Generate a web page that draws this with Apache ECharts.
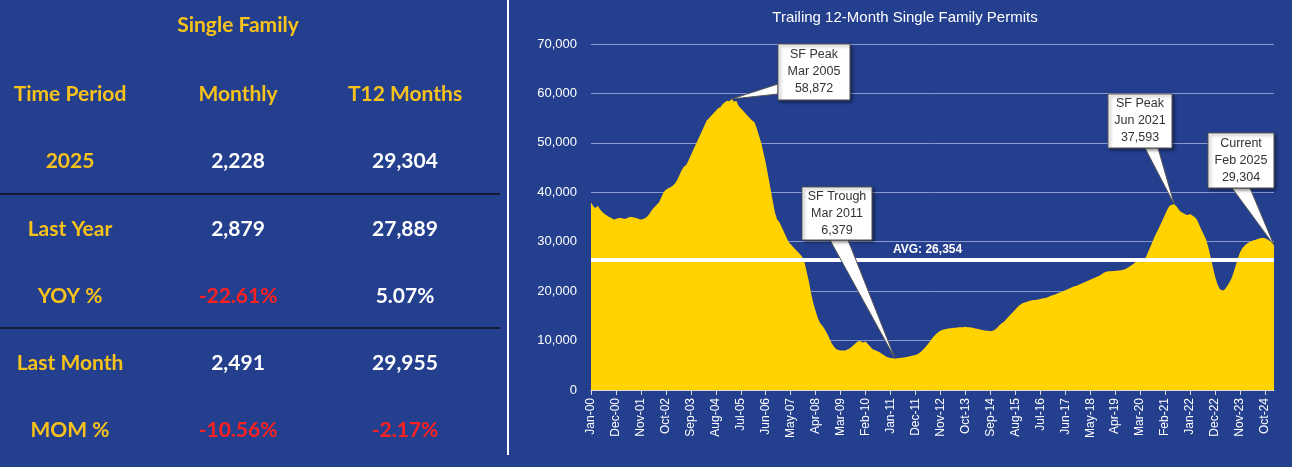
<!DOCTYPE html>
<html><head><meta charset="utf-8">
<script src="https://cdn.jsdelivr.net/npm/echarts@6/dist/echarts.min.js"></script>
<style>html,body{margin:0;padding:0;background:#243f8e;}#c{width:1292px;height:467px;}</style>
</head><body><div id="c"></div>
<script>
const MONTHS=['Jan','Feb','Mar','Apr','May','Jun','Jul','Aug','Sep','Oct','Nov','Dec'];
const startYear=2000;
// Trailing 12-month single family permits, thousands, Jan 2000 .. Feb 2025
const y2000=[38,37.2,36.8,37.3,36.5,36,35.6,35.3,35,34.8,34.5,34.6];
const y2001=[34.8,34.8,34.7,34.6,34.8,35,35,34.9,34.8,34.6,34.5,34.6];
const y2002=[34.8,35.2,35.8,36.5,37,37.5,38,39,40,40.5,40.8,41];
const y2003=[41.3,41.8,42.5,43.5,44.5,45.2,45.5,46.5,47.5,48.5,49.5,50.5];
const y2004=[51.5,52.5,53.5,54.5,55,55.5,56,56.5,57,57.2,57.8,58.2];
const y2005=[58.5,58.4,58.872,58.3,58.5,57.5,57,56.5,56,55.5,55,54.5];
const y2006=[54.2,53,51.5,50,48,46,43.5,41,38.5,36,34.5,34];
const y2007=[33,32,31,30,29.5,29,28.5,28,27.5,27,26,24];
const y2008=[22,19.5,17.5,16,14.5,13.5,13,12.3,11.5,10.5,9.5,8.8];
const y2009=[8.3,8.1,8,8,8,8.2,8.4,8.8,9.2,9.6,9.9,9.8];
const y2010=[9.6,9.8,9.3,8.8,8.3,8.1,7.9,7.7,7.4,7.1,6.8,6.6];
const y2011=[6.45,6.4,6.379,6.4,6.45,6.5,6.6,6.7,6.8,6.9,7,7.1];
const y2012=[7.3,7.6,8,8.5,9,9.6,10.2,10.8,11.3,11.7,12,12.2];
const y2013=[12.3,12.4,12.5,12.5,12.6,12.6,12.7,12.7,12.7,12.8,12.7,12.7];
const y2014=[12.6,12.5,12.4,12.3,12.2,12.1,12,12,11.9,12,12.2,12.6];
const y2015=[13.1,13.5,13.8,14.3,14.8,15.3,15.8,16.3,16.8,17.2,17.5,17.7];
const y2016=[17.8,18,18.1,18.2,18.2,18.3,18.4,18.5,18.6,18.7,18.9,19.1];
const y2017=[19.2,19.4,19.6,19.8,20,20.2,20.4,20.6,20.8,21,21.1,21.3];
const y2018=[21.5,21.7,21.9,22.1,22.3,22.5,22.7,22.9,23.1,23.4,23.7,23.9];
const y2019=[24,24,24.1,24.1,24.2,24.2,24.3,24.4,24.6,24.9,25.2,25.5];
const y2020=[25.9,26.2,26,25.8,26.4,27.3,28.4,29.5,30.6,31.6,32.5,33.5];
const y2021=[34.5,35.5,36.5,37.3,37.5,37.593,37.2,36.5,36,35.8,35.5,35.4];
const y2022=[35.6,35.3,35,34.5,33.5,32.4,31.5,30.5,29,27,25,23];
const y2023=[21.5,20.5,20.2,20.2,20.8,21.5,22.3,23.5,25,26.5,27.8,28.7];
const y2024=[29.2,29.6,29.9,30.1,30.3,30.4,30.6,30.7,30.8,30.7,30.5,30.2];
const y2025=[29.955,29.304];
const avgValue=26354;
const callouts=[
 {lines:['SF Peak','Mar 2005','58,872'],cat:'Mar-05'},
 {lines:['SF Trough','Mar 2011','6,379'],cat:'Mar-11'},
 {lines:['SF Peak','Jun 2021','37,593'],cat:'Jun-21'},
 {lines:['Current','Feb 2025','29,304'],cat:'Feb-25'}
];
const tableTitle='Single Family';
const tableHeader=['Time Period','Monthly','T12 Months'];
const tableRows=[
 ['2025','2,228','29,304'],
 ['Last Year','2,879','27,889'],
 ['YOY %','-22.61%','5.07%'],
 ['Last Month','2,491','29,955'],
 ['MOM %','-10.56%','-2.17%']
];

const years=[y2000,y2001,y2002,y2003,y2004,y2005,y2006,y2007,y2008,y2009,y2010,y2011,y2012,y2013,y2014,y2015,y2016,y2017,y2018,y2019,y2020,y2021,y2022,y2023,y2024,y2025];
const cats=[],vals=[];
years.forEach((arr,i)=>arr.forEach((v,m)=>{cats.push(MONTHS[m]+'-'+String((startYear+i)%100).padStart(2,'0'));vals.push(Math.round(v*1000));}));

const chart=echarts.init(document.getElementById('c'));
const BG='#243f8e',YEL='#ffd200',TY='#f7c21a';
const G={left:591,right:18,top:44,bottom:77};
chart.setOption({
 backgroundColor:BG,animation:false,
 title:{text:'Trailing 12-Month Single Family Permits',left:900,textAlign:'center',top:5,textStyle:{color:'#fff',fontSize:15,fontWeight:'normal',fontFamily:'Liberation Sans'}},
 grid:G,
 xAxis:{type:'category',data:cats,boundaryGap:false,
  axisLine:{lineStyle:{color:'#d9d9d9'}},axisTick:{interval:10,lineStyle:{color:'#d9d9d9'}},
  axisLabel:{interval:10,rotate:90,color:'#fff',fontSize:12,fontFamily:'Liberation Sans'},splitLine:{show:false}},
 yAxis:{type:'value',min:0,max:70000,interval:10000,
  axisLabel:{color:'#fff',fontSize:13,fontFamily:'Liberation Sans',margin:14,formatter:v=>v.toLocaleString('en-US')},
  splitLine:{lineStyle:{color:'#8a9acb',width:1}},axisLine:{show:false},axisTick:{show:false}},
 series:[{type:'line',data:vals,symbol:'none',lineStyle:{width:0},areaStyle:{color:YEL,opacity:1},z:2,
  markLine:{symbol:'none',silent:true,data:[{yAxis:avgValue}],lineStyle:{color:'#fff',width:4,type:'solid'},
   label:{show:false}},z:3}]
});

// graphics
const gr=[];
gr.push({type:'line',shape:{x1:508,y1:0,x2:508,y2:455},style:{stroke:'#fff',lineWidth:2}});
gr.push({type:'line',shape:{x1:0,y1:194,x2:500,y2:194},style:{stroke:'#111',lineWidth:1.5}});
gr.push({type:'line',shape:{x1:0,y1:328,x2:500,y2:328},style:{stroke:'#111',lineWidth:1.5}});
const colX=[70,238,405],rowY=[161,229,296,363,430];
const tf='Lato';
gr.push({type:'text',x:238,y:25,style:{text:tableTitle,fill:TY,font:'bold 21px '+tf,textAlign:'center',textVerticalAlign:'middle'}});
tableHeader.forEach((t,i)=>gr.push({type:'text',x:colX[i],y:94,style:{text:t,fill:TY,font:'bold 21px '+tf,textAlign:'center',textVerticalAlign:'middle'}}));
tableRows.forEach((r,ri)=>r.forEach((t,ci)=>{
 const col=ci===0?TY:(t.startsWith('-')?'#ff2020':'#fff');
 gr.push({type:'text',x:colX[ci],y:rowY[ri],style:{text:t,fill:col,font:'bold 21px '+tf,textAlign:'center',textVerticalAlign:'middle'}});
}));
const avgPx=chart.convertToPixel({yAxisIndex:0},avgValue);
gr.push({type:'text',x:893,y:avgPx-10,style:{text:'AVG: '+avgValue.toLocaleString('en-US'),fill:'#fff',font:'bold 12px Liberation Sans',textVerticalAlign:'middle'}});
// callout boxes: [x,y,w,h, base points on box]
const boxes=[[778,44,72,56],[802,187,70,53],[1108,94,64,54],[1208,133,66,55]];
const bases=[[[778,84],[778,94]],[[830,240],[848,240]],[[1145,148],[1158,148]],[[1232,188],[1250,188]]];
callouts.forEach((c,i)=>{
 const idx=cats.indexOf(c.cat);
 const p=chart.convertToPixel({seriesIndex:0},[idx,vals[idx]]);
 const [bx,by,bw,bh]=boxes[i];const b=bases[i];
 gr.push({type:'polygon',shape:{points:[b[0],b[1],[p[0],p[1]]]},style:{fill:'#fff',stroke:'#555',lineWidth:1},z:10});
 gr.push({type:'rect',shape:{x:bx,y:by,width:bw,height:bh},style:{fill:'#fff',stroke:'#555',lineWidth:1,shadowColor:'rgba(0,0,0,0.4)',shadowBlur:3,shadowOffsetX:2,shadowOffsetY:2},z:11});
 gr.push({type:'text',x:bx+bw/2,y:by+bh/2,style:{text:c.lines.join('\n'),fill:'#333',font:'12.5px Liberation Sans',lineHeight:17,textAlign:'center',textVerticalAlign:'middle'},z:12});
});
chart.setOption({graphic:gr});
</script></body></html>
